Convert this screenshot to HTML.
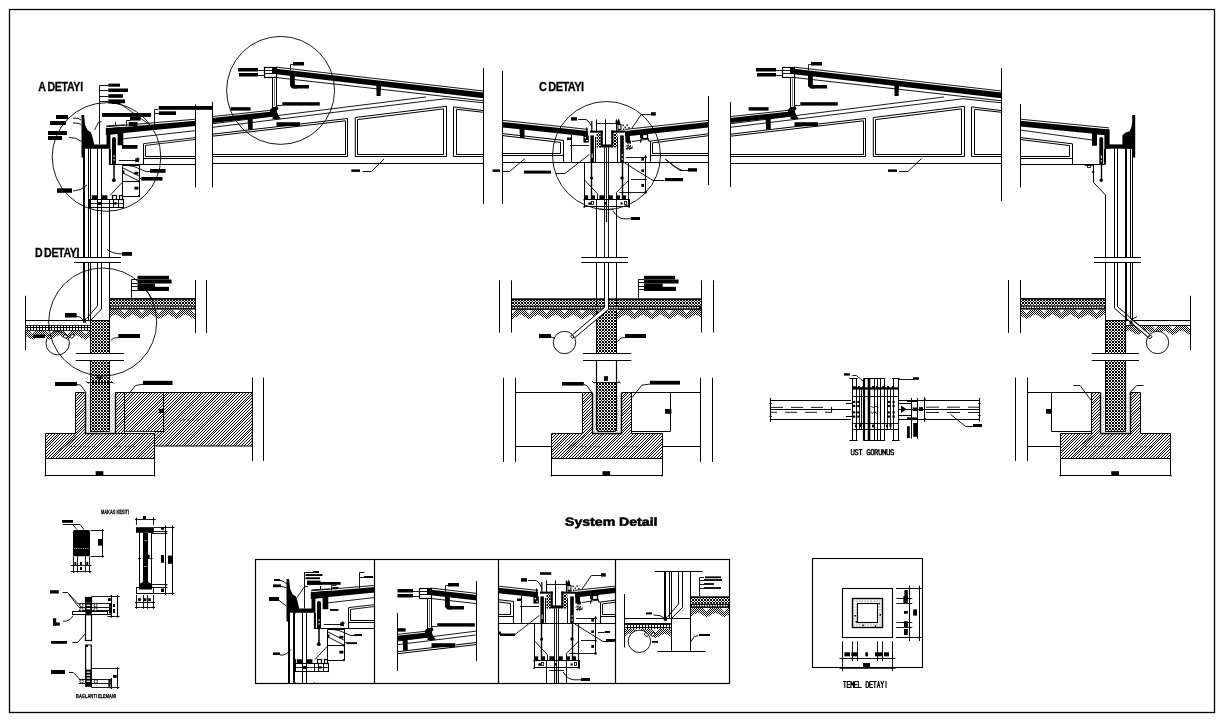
<!DOCTYPE html>
<html><head><meta charset="utf-8"><title>System Detail</title>
<style>html,body{margin:0;padding:0;background:#fff}svg{display:block}svg{fill:none;stroke:#000;stroke-width:1}svg .b{fill:#000;stroke:none}svg .w{fill:#fff;stroke:none}svg text{font-family:"Liberation Sans",sans-serif;fill:#000;stroke:none;filter:grayscale(1)}</style></head><body>
<svg width="1224" height="723" viewBox="0 0 1224 723">
<defs>
<pattern id="hatch" patternUnits="userSpaceOnUse" width="17" height="17">
<path d="M0 0h1v1h-1zM3 0h1v1h-1zM6 0h1v1h-1zM9 0h1v1h-1zM12 0h1v1h-1zM15 0h1v1h-1zM2 1h1v1h-1zM5 1h1v1h-1zM8 1h1v1h-1zM11 1h1v1h-1zM14 1h1v1h-1zM16 1h1v1h-1zM1 2h1v1h-1zM4 2h1v1h-1zM7 2h1v1h-1zM10 2h1v1h-1zM13 2h1v1h-1zM15 2h1v1h-1zM0 3h1v1h-1zM3 3h1v1h-1zM6 3h1v1h-1zM9 3h1v1h-1zM12 3h1v1h-1zM14 3h1v1h-1zM2 4h1v1h-1zM5 4h1v1h-1zM8 4h1v1h-1zM11 4h1v1h-1zM13 4h1v1h-1zM16 4h1v1h-1zM1 5h1v1h-1zM4 5h1v1h-1zM7 5h1v1h-1zM10 5h1v1h-1zM12 5h1v1h-1zM15 5h1v1h-1zM0 6h1v1h-1zM3 6h1v1h-1zM6 6h1v1h-1zM9 6h1v1h-1zM11 6h1v1h-1zM14 6h1v1h-1zM2 7h1v1h-1zM5 7h1v1h-1zM8 7h1v1h-1zM10 7h1v1h-1zM13 7h1v1h-1zM16 7h1v1h-1zM1 8h1v1h-1zM4 8h1v1h-1zM7 8h1v1h-1zM9 8h1v1h-1zM12 8h1v1h-1zM15 8h1v1h-1zM0 9h1v1h-1zM3 9h1v1h-1zM6 9h1v1h-1zM8 9h1v1h-1zM11 9h1v1h-1zM14 9h1v1h-1zM2 10h1v1h-1zM5 10h1v1h-1zM7 10h1v1h-1zM10 10h1v1h-1zM13 10h1v1h-1zM16 10h1v1h-1zM1 11h1v1h-1zM4 11h1v1h-1zM6 11h1v1h-1zM9 11h1v1h-1zM12 11h1v1h-1zM15 11h1v1h-1zM0 12h1v1h-1zM3 12h1v1h-1zM5 12h1v1h-1zM8 12h1v1h-1zM11 12h1v1h-1zM14 12h1v1h-1zM2 13h1v1h-1zM4 13h1v1h-1zM7 13h1v1h-1zM10 13h1v1h-1zM13 13h1v1h-1zM16 13h1v1h-1zM1 14h1v1h-1zM3 14h1v1h-1zM6 14h1v1h-1zM9 14h1v1h-1zM12 14h1v1h-1zM15 14h1v1h-1zM0 15h1v1h-1zM2 15h1v1h-1zM5 15h1v1h-1zM8 15h1v1h-1zM11 15h1v1h-1zM14 15h1v1h-1zM1 16h1v1h-1zM4 16h1v1h-1zM7 16h1v1h-1zM10 16h1v1h-1zM13 16h1v1h-1zM16 16h1v1h-1z" fill="#000" stroke="none" shape-rendering="crispEdges"/></pattern>
<pattern id="conc" patternUnits="userSpaceOnUse" width="3" height="3">
<path d="M0 0H1V1H0ZM2 0H3V1H2ZM1 1H2V2H1ZM0 2H1V3H0ZM2 2H3V3H2Z" fill="#000" stroke="none" shape-rendering="crispEdges"/></pattern>
<pattern id="dots" patternUnits="userSpaceOnUse" width="3" height="3">
<path d="M2 0H3V1H2ZM1 1H2V2H1ZM0 2H1V3H0ZM0 0H1V1H0ZM2 2H3V3H2Z" fill="#000" stroke="none" shape-rendering="crispEdges"/></pattern>
<pattern id="dots2" patternUnits="userSpaceOnUse" width="3" height="3">
<path d="M0 0H3V3H0Z" fill="#000" stroke="none"/><path d="M1 1H3V3H1Z" fill="#fff" stroke="none" shape-rendering="crispEdges"/></pattern>
<pattern id="xh" patternUnits="userSpaceOnUse" width="2" height="2">
<path d="M0 0H1V1H0ZM1 1H2V2H1Z" fill="#000" stroke="none" shape-rendering="crispEdges"/></pattern>
<pattern id="xhL" patternUnits="userSpaceOnUse" width="3" height="3">
<path d="M0 0H1V1H0ZM1 1H2V2H1ZM2 2H3V3H2ZM1 0H2V1H1ZM2 1H3V2H2ZM0 2H1V3H0Z" fill="#000" stroke="none" shape-rendering="crispEdges"/></pattern>
<pattern id="xhR" patternUnits="userSpaceOnUse" width="3" height="3">
<path d="M2 0H3V1H2ZM1 1H2V2H1ZM0 2H1V3H0ZM1 0H2V1H1ZM0 1H1V2H0ZM2 2H3V3H2Z" fill="#000" stroke="none" shape-rendering="crispEdges"/></pattern>
<pattern id="grout" patternUnits="userSpaceOnUse" width="2.3" height="4.3">
<rect x="0.6" y="0.5" width="0.7" height="0.7" fill="#000" stroke="none"/><rect x="1.6" y="2.7" width="0.6" height="0.6" fill="#000" stroke="none"/></pattern>
<pattern id="grout2" patternUnits="userSpaceOnUse" width="2.9" height="2.9">
<rect x="0.6" y="0.5" width="0.9" height="0.9" fill="#000" stroke="none"/></pattern>

<g id="LU"><path d="M84 148L84 257.2" stroke-width="2"/>
<path d="M88.5 148.5L88.5 257.2"/>
<path d="M90.5 148.5L90.5 257.2"/>
<path d="M97.5 148.5L97.5 257.2"/>
<path d="M101.5 148.5L101.5 257.2"/>
<path d="M109.5 207L109.5 257.2"/>
<rect class="b" x="81.5" y="115" width="2.7" height="42.5"/>
<polygon class="b" points="84,116 85.2,125 87.5,130 91,132.6 92.6,137.5 94,143.6 94,144.4 106.5,144.4 106.5,129.5 110.4,129.5 110.4,148.8 84,148.8"/>
<polygon class="b" points="106,128.5 195.6,120.8 195.6,126 106,134.7"/>
<path d="M106 126.8L195.6 119.2" stroke-width="0.9"/>
<polygon class="b" points="105.8,128.3 123.3,126.8 123.3,145.2 117.6,145.2 117.6,134 105.8,135"/>
<path d="M112 139Q112 137 114 137Q116 137 116 139L116 164.4L112 164.4Z" stroke-width="0" fill="#000"/>
<rect class="b" x="108.9" y="148.8" width="2" height="15.6"/>
<path d="M108.9 164.5L116 164.5"/>
<rect class="w" x="113.5" y="155.3" width="1.1" height="1.8"/><rect class="w" x="113.5" y="158.8" width="1.1" height="1.8"/>
<path d="M114 164.4L114 180" stroke-width="1.5"/>
<circle class="b" cx="113.8" cy="180.2" r="1.9"/>
<path d="M123.3 138.8L195.6 130.6" stroke-width="0.9"/>
<path d="M143.75 143.6L195.6 137.6" stroke-width="0.9"/>
<path d="M145.6 145.4L195.6 139.4" stroke-width="0.9"/>
<path d="M143.5 143.6L143.5 164.3"/>
<path d="M145.5 145.4L145.5 156.8"/>
<path d="M145.6 156.5L195.6 156.5"/>
<path d="M143.75 158.5L195.6 158.5"/>
<path d="M109.5 164.5L195.6 164.5"/>
<path d="M118.8 160.5L137 160.5" stroke-width="0.92"/>
<polygon class="b" points="135,158.6 137.2,158.2 138,156.6 138.6,158.4 140,158.8 138.8,160.2 139,162.6 137,161.8 135,162.6 135.6,160.4"/>
<path d="M138.5 165.5L122.5 165.5L122.5 196.5L139.5 196.5"/>
<path d="M139.5 164L139.5 197"/>
<path d="M122 181.5L139 181.5"/>
<path d="M122 167.5L139 176" stroke-width="0.92"/>
<path d="M122 172.5L139 181" stroke-width="0.92"/>
<rect class="b" x="134.4" y="171.8" width="4" height="2.6"/>
<rect class="b" x="134.4" y="186.7" width="4" height="2.9"/>
<rect class="b" x="123" y="170.5" width="1.4" height="3"/>
<circle class="b" cx="139" cy="181.5" r="1.1"/>
<circle class="b" cx="139" cy="196" r="1.1"/>
<circle class="b" cx="139" cy="165" r="1.1"/>
<path d="M128 165.5L134 166.5L146 171.5L150 171.5" stroke-width="0.92"/>
<path d="M139 178.5L141.3 178.5" stroke-width="0.92"/>
<path d="M110 195.5L122 182.5" stroke-width="0.92"/>
<rect x="89.5" y="199.5" width="34" height="8"/>
<path d="M89 203.5L123 203.5" stroke-width="0.85"/>
<path d="M97.5 199.6L97.5 207.3" stroke-width="0.92"/>
<path d="M101.5 199.6L101.5 207.3" stroke-width="0.92"/>
<path d="M109.5 199.6L109.5 207.3" stroke-width="0.92"/>
<path d="M113.5 199.6L113.5 207.3" stroke-width="0.92"/>
<path d="M118.5 199.6L118.5 207.3" stroke-width="0.92"/>
<rect class="b" x="91.8" y="195.3" width="5.2" height="4.1"/>
<rect class="b" x="101.6" y="195.3" width="5.8" height="4.1"/>
<rect x="112.5" y="195.5" width="4" height="4" stroke-width="1.2"/>
<rect x="119.5" y="195.5" width="3" height="4" stroke-width="1.2"/>
<rect class="b" x="97.3" y="202" width="3.7" height="3"/>
<rect class="b" x="114.2" y="202.2" width="2.4" height="2.4"/>
<circle class="b" cx="123" cy="199.6" r="0.9"/>
<circle class="b" cx="123" cy="207.3" r="0.9"/>
<circle class="b" cx="89" cy="207.3" r="0.9"/></g>
<g id="LUL"><rect class="b" x="122" y="145" width="15.5" height="3.8"/>
<rect class="b" x="150" y="169" width="15.6" height="3.8"/>
<rect class="b" x="141.3" y="177" width="21.2" height="3.6"/>
<path d="M99.5 85.8L99.5 144" stroke-width="0.92"/>
<path d="M99.4 85.5L108.3 85.5" stroke-width="0.92"/>
<path d="M99.4 90.5L108.3 90.5" stroke-width="0.92"/>
<path d="M99.4 96.5L108.3 96.5" stroke-width="0.92"/>
<path d="M99.4 101.5L108.3 101.5" stroke-width="0.92"/>
<rect class="b" x="108.3" y="83.6" width="11.7" height="3.1"/>
<rect class="b" x="108.3" y="88.5" width="19.7" height="3.5"/>
<rect class="b" x="108.3" y="94.2" width="14.7" height="3.6"/>
<rect class="b" x="108.3" y="99.4" width="16.7" height="3.8"/>
<rect class="b" x="112" y="102.5" width="8" height="1.5"/>
<path d="M120 103.5L150 125" stroke-width="0.85"/>
<rect class="b" x="56" y="115" width="12" height="4"/>
<rect class="b" x="50" y="121" width="16" height="4"/>
<rect class="b" x="48" y="131" width="19" height="4"/>
<rect class="b" x="48" y="136" width="14" height="4"/>
<path d="M73 118L78 118.3L81 120" stroke-width="0.92"/>
<path d="M73 123L78 123.3L81 124.5" stroke-width="0.92"/>
<path d="M69 137.5Q76 137 81.5 141.5" stroke-width="0.92"/>
<rect class="b" x="102" y="113" width="49" height="3.9"/>
<rect class="b" x="130" y="116.9" width="10.6" height="3.7"/>
<rect class="b" x="128.8" y="122" width="8.7" height="4"/>
<path d="M126.5 126.5L126.5 120.5L130.5 120.5" stroke-width="0.92"/>
<path d="M115.5 122L115.5 125.6"/>
<path d="M106.5 125.8L125 124.9" stroke-width="0.85"/>
<path d="M101.5 121.7L98.5 122.2L94.5 130" stroke-width="0.85"/>
<path d="M154.5 125.5L154.5 109.5L158.5 109.5" stroke-width="0.92"/>
<rect class="b" x="158.8" y="106" width="36.8" height="3.8"/>
<path d="M154.4 113.5L158.8 113.5" stroke-width="0.92"/>
<rect class="b" x="158.8" y="111.3" width="17.2" height="3.7"/>
<rect class="b" x="57" y="188.3" width="15" height="4.5"/>
<path d="M73 191Q81 191 87 185" stroke-width="0.92"/>
<rect class="b" x="122" y="252" width="10" height="3.8"/>
<path d="M107 249.5Q112 253.5 122 254" stroke-width="0.92"/></g>
<g id="TR"><path d="M212.5 163.5L483.5 163.5"/>
<path d="M212.5 134.2L347.5 118.5L347.5 156.5L212.5 156.5"/>
<path d="M212.5 136.2L345.5 120.8L345.5 154.5L212.5 154.5"/>
<path d="M355.3 117.5L446.5 106.3L446.5 156.5L355.3 156.5Z"/>
<path d="M357.5 119.6L443.5 108.9L443.5 154.5L357.5 154.5Z"/>
<path d="M483.5 110.6L453.5 106.9L453.5 156.5L483.5 156.5"/>
<path d="M483.5 112.3L456.5 109.3L456.5 154.5L483.5 154.5"/>
<path d="M212.5 123.75L426 97" stroke-width="0.9"/>
<path d="M212.5 127.3L445 98.75" stroke-width="0.9"/>
<polygon class="b" points="212.5,118 277,111 277,115.9 212.5,122.9"/>
<path d="M212.5 116.6L277 109.6" stroke-width="0.9"/>
<polygon class="b" points="247.6,118 252.6,117.4 252.8,129.4 248.2,129.7"/>
<polygon class="b" points="270,109.5 273,107 277.6,106.6 278.5,109 276.5,111 278.6,116 281,118.6 276,119.6 272,118.6 273.6,116 270,116"/>
<polygon class="b" points="276,68.7 483.5,92.6 483.5,98.2 276,74.3"/>
<path d="M276 67.1L483.5 91" stroke-width="0.9"/>
<path d="M276 77.5L483.5 100.8" stroke-width="0.92"/>
<path d="M445 98.75L483.5 102.8" stroke-width="0.92"/>
<rect x="264.5" y="67.5" width="12" height="10" stroke-width="1.2" fill="#fff"/>
<path d="M264.5 70.5L276 70.5" stroke-width="0.92"/>
<path d="M264.5 73.5L276 73.5" stroke-width="0.92"/>
<rect class="b" x="272" y="67" width="5" height="7"/>
<path d="M272.5 77L272.5 108"/>
<path d="M276.5 77L276.5 108"/>
<path d="M274.5 79L274.5 106" stroke-width="0.5"/>
<polygon class="b" points="290,73.5 294.8,74 294.8,84.5 297,85.2 297,88.5 292.5,88.5 290,86"/>
<rect class="b" x="294" y="85" width="15" height="3.5"/>
<polygon class="b" points="376.2,81 381.2,81.6 380.6,96 376.6,96"/>
<rect class="b" x="238" y="68" width="20" height="3.5"/>
<rect class="b" x="239" y="73" width="19" height="3.5"/>
<path d="M258 70.5L264.5 70.5" stroke-width="0.85"/>
<path d="M258 75.5L264.5 75.5" stroke-width="0.85"/>
<rect class="b" x="293" y="62" width="11" height="3.5"/>
<path d="M290.5 70.5L290.5 64.5L293.5 64.5" stroke-width="0.85"/>
<rect class="b" x="282.3" y="102.2" width="37.5" height="3.4"/>
<path d="M276.2 105.5L282.3 105.5" stroke-width="0.85"/>
<rect class="b" x="276.5" y="122.2" width="23.5" height="4"/>
<rect class="b" x="230.6" y="107.2" width="20" height="3.4"/></g>
<g id="MU"><polygon class="b" points="502.5,121.9 588,131 588,136.5 502.5,127.4"/>
<path d="M502.5 120.3L588 129.4" stroke-width="0.9"/>
<polygon class="b" points="625,131 708.5,122 708.5,127.5 625,136.5"/>
<path d="M625 129.4L708.5 120.4" stroke-width="0.9"/>
<polygon class="b" points="519.4,127.5 524.6,128 524.4,138 520,138"/>
<path d="M502.5 133.6L563.5 140.4L563.5 155.5L502.5 155.5"/>
<path d="M502.5 135.6L560.5 142.4L560.5 153.5L502.5 153.5"/>
<path d="M708.5 133.8L650.5 141L650.5 155.5L708.5 155.5"/>
<path d="M708.5 135.7L652.5 142.9L652.5 153.5L708.5 153.5"/>
<path d="M502.5 162.5L708.5 162.5"/>
<path d="M571.5 135L571.5 162.7"/>
<path d="M570 145.5L589 145.5" stroke-width="0.9"/>
<rect class="b" x="567" y="137.5" width="4" height="2.5"/>
<rect class="b" x="627" y="140.5" width="4" height="3"/>
<path d="M563.5 140.4L563.5 162.7"/>
<path d="M650.5 141L650.5 162.7"/>
<rect class="b" x="590" y="130.6" width="12.6" height="2.1"/>
<rect class="b" x="611.2" y="130.6" width="14" height="2.1"/>
<polygon class="b" points="600.6,130.6 602.8,130.6 602.8,144.6 611.2,144.6 611.2,130.6 613.4,130.6 613.4,147.2 600.6,147.2"/>
<rect x="596.6" y="133" width="4" height="14.2" stroke-width="0" fill="url(#conc)"/>
<rect x="613.4" y="133" width="4" height="14.2" stroke-width="0" fill="url(#conc)"/>
<rect x="596.6" y="144.8" width="20.8" height="2.6" stroke-width="0" fill="url(#conc)"/>
<path d="M596 123.5L616.3 123.5" stroke-width="0.9"/>
<path d="M596.5 119.5L596.5 131"/>
<path d="M616.5 119.5L616.5 131"/>
<path d="M605.5 119.4L605.5 145"/>
<rect class="b" x="591.2" y="121" width="1.2" height="10"/>
<rect class="b" x="586" y="127.5" width="1.4" height="3.5"/>
<polygon class="b" points="615.4,120 616.6,122 619,118.6 620.4,124 616,125"/>
<rect class="b" x="617.5" y="124" width="4" height="6.6"/>
<rect class="w" x="618.4" y="125.2" width="2" height="3.6"/>
<rect class="b" x="622.5" y="124.5" width="1.3" height="1.6"/>
<rect class="b" x="624.5" y="126.5" width="1.3" height="1.6"/>
<rect class="b" x="626.5" y="124.3" width="1.3" height="1.6"/>
<rect class="b" x="628.3" y="127" width="1.3" height="1.6"/>
<rect class="b" x="623" y="128.6" width="1.3" height="1.6"/>
<polygon class="b" points="583.4,135.4 588.8,135.4 588.8,142.6 583.4,142.6"/>
<circle cx="585.4" cy="137.6" r="0.8" fill="#fff" stroke="none"/><circle cx="587" cy="140.5" r="0.8" fill="#fff" stroke="none"/>
<rect class="b" x="625.4" y="135" width="4.6" height="7.4"/>
<rect x="642.5" y="134.5" width="5" height="4" stroke-width="1.3"/>
<rect class="b" x="640" y="133.5" width="3" height="4.5"/>
<path d="M632 141.5L649 139" stroke-width="0.9"/>
<path d="M641.5 137.5L640.5 142.6M647.8 138.5L649.5 141.6" stroke-width="1.2"/>
<path d="M625.5 146.6L628.4 144.8L627.4 149.4L630.6 145L629.6 149.5L633 146.5M626 148.6L632.6 148.2" stroke-width="0.9"/>
<rect class="b" x="590.4" y="135.4" width="3.5" height="27.2"/>
<path d="M595.5 137L595.5 162.6"/>
<rect class="b" x="620.2" y="135.4" width="3.6" height="27.2"/>
<path d="M617.5 137L617.5 162.6"/>
<rect class="w" x="591.7" y="153.5" width="0.9" height="4.6"/><rect class="w" x="621.7" y="154" width="0.9" height="2"/><rect class="w" x="621.7" y="158" width="0.9" height="2"/>
<path d="M590.4 162.5L596.2 162.5"/>
<path d="M617 162.5L623.8 162.5"/>
<path d="M591.5 162.6L591.5 199" stroke-width="1.4"/>
<path d="M622.5 162.6L622.5 199" stroke-width="1.4"/>
<circle class="b" cx="591.6" cy="178" r="1.5"/>
<circle class="b" cx="622" cy="178" r="1.7"/>
<path d="M604.5 147.4L604.5 257.5" stroke-width="0.9"/>
<path d="M608.5 147.4L608.5 257.5" stroke-width="0.9"/>
<path d="M606.5 147.4L606.5 222" stroke-width="0.9"/>
<path d="M606.5 207L606.5 222" stroke-width="1.2"/>
<path d="M584.5 162.7L584.5 207"/>
<path d="M628.5 162.7L628.5 207"/>
<path d="M584.6 180L597.5 193.8" stroke-width="0.9"/>
<path d="M628.8 180L616.3 192.5" stroke-width="0.9"/>
<path d="M597.5 193.8L597.5 199.5" stroke-width="0.9"/>
<path d="M616.5 192.5L616.5 199.5" stroke-width="0.9"/>
<rect x="584.5" y="199.5" width="45" height="7"/>
<path d="M596.5 199.8L596.5 206.9" stroke-width="0.9"/>
<path d="M616.5 199.8L616.5 206.9" stroke-width="0.9"/>
<rect class="b" x="584.7" y="195.3" width="3.5" height="4.2"/>
<rect class="b" x="591.3" y="195.3" width="3.7" height="4.2"/>
<rect class="b" x="599.4" y="195.3" width="5.4" height="4.2"/>
<rect class="b" x="608.5" y="195.3" width="4.3" height="4.2"/>
<rect class="b" x="616.9" y="195.3" width="3.1" height="4.2"/>
<rect class="b" x="622.8" y="195.3" width="3.2" height="4.2"/>
<rect class="b" x="588.4" y="202.3" width="2.6" height="2.5"/>
<rect x="591.5" y="201.5" width="2" height="3" stroke-width="0.8"/>
<rect x="624.5" y="201.5" width="2" height="3" stroke-width="0.8"/>
<rect class="b" x="620.6" y="202.4" width="2" height="2.2"/>
<rect class="b" x="604.6" y="202" width="2.2" height="2.6"/>
<circle class="b" cx="584.2" cy="199.8" r="0.9"/>
<circle class="b" cx="584.2" cy="206.9" r="0.9"/>
<circle class="b" cx="629.3" cy="199.8" r="0.9"/>
<circle class="b" cx="629.3" cy="206.9" r="0.9"/>
<path d="M599.4 209.5L613.8 209.5" stroke-width="0.9"/>
<path d="M596.5 206.9L596.5 257.5"/>
<path d="M616.5 206.9L616.5 257.5"/>
<path d="M645.5 156L645.5 193"/>
<path d="M626 157.5L645 157.5" stroke-width="0.9"/>
<path d="M631 179.5L645.6 179.5" stroke-width="0.9"/>
<path d="M619.4 192.5L645.6 192.5" stroke-width="0.9"/>
<rect class="b" x="641.3" y="157.8" width="2.7" height="2.8"/>
<rect class="b" x="641.3" y="169.4" width="2.7" height="2.5"/>
<rect class="b" x="641.3" y="184" width="2.7" height="2.9"/>
<polygon class="b" points="645.6,154.6 647.2,158 644.2,158"/>
<circle class="b" cx="645.6" cy="192.5" r="1.3"/>
<circle class="b" cx="645.6" cy="179.4" r="1"/>
<path d="M625 163.2L653 180.5L664.4 180.5" stroke-width="0.92"/>
<rect class="b" x="665" y="178" width="18" height="3.2"/>
<path d="M665.6 159.4Q674 168 683 170.8" stroke-width="0.92"/>
<rect class="b" x="688" y="168.2" width="9" height="3.4"/>
<path d="M665 158.8L680 170.5L688 170.5" stroke-width="0.92"/>
<path d="M556 173.5L565 173.5L589.4 154.4" stroke-width="0.92"/>
<rect class="b" x="524" y="170.6" width="27" height="3"/>
<rect class="b" x="571" y="117.2" width="6" height="3.4"/>
<path d="M578.2 119.5L586.2 119.5L589 122L592 127" stroke-width="0.92"/>
<rect class="b" x="651" y="112.2" width="4.8" height="3.4"/>
<path d="M651 114.5L641.3 114.5L632 128" stroke-width="0.92"/>
<path d="M613 211Q618 218.8 624 218.8L631 218.8" stroke-width="0.92"/>
<rect class="b" x="631" y="217" width="9" height="3"/>
<rect class="b" x="492.5" y="169.4" width="7.5" height="2.5"/>
<path d="M502.5 171.5L509.5 171.5L525 158.6" stroke-width="0.92"/></g>
<clipPath id="cp1"><rect x="284" y="560" width="90.4" height="123"/></clipPath>
<clipPath id="cp2"><rect x="397.5" y="580" width="78.8" height="92"/></clipPath>
<clipPath id="cp3"><rect x="498.5" y="560" width="117.1" height="123"/></clipPath>
<clipPath id="cpL"><rect x="0" y="0" width="195.6" height="723"/></clipPath>
</defs>
<rect x="0" y="0" width="1224" height="723" class="w"/>
<rect x="9.5" y="9.5" width="1205" height="703" stroke-width="1.3"/>
<use href="#LU" clip-path="url(#cpL)"/>
<use href="#LUL" clip-path="url(#cpL)"/>
<path d="M84 262.2L84 320.3" stroke-width="2"/>
<path d="M88.5 262.2L88.5 320.3"/>
<path d="M90.5 262.2L90.5 320.3"/>
<path d="M97.5 262.2L97.5 305.8L86.7 318.6"/>
<path d="M101.5 262.2L101.5 309L91 320"/>
<path d="M109.5 262.2L109.5 320.3"/>
<rect x="110" y="299.5" width="85.3" height="5.9" stroke-width="0" fill="url(#dots)"/>
<rect class="b" x="110" y="298" width="85.3" height="1.7"/>
<rect class="b" x="110" y="305.4" width="85.3" height="4.2"/>
<rect class="w" x="111.2" y="306.6" width="1.7" height="1.5"/>
<rect class="w" x="113.8" y="306.6" width="1.7" height="1.5"/>
<rect class="w" x="116.4" y="306.6" width="1.7" height="1.5"/>
<rect class="w" x="119" y="306.6" width="1.7" height="1.5"/>
<rect class="w" x="121.6" y="306.6" width="1.7" height="1.5"/>
<rect class="w" x="124.2" y="306.6" width="1.7" height="1.5"/>
<rect class="w" x="126.8" y="306.6" width="1.7" height="1.5"/>
<rect class="w" x="129.4" y="306.6" width="1.7" height="1.5"/>
<rect class="w" x="132" y="306.6" width="1.7" height="1.5"/>
<rect class="w" x="134.6" y="306.6" width="1.7" height="1.5"/>
<rect class="w" x="137.2" y="306.6" width="1.7" height="1.5"/>
<rect class="w" x="139.8" y="306.6" width="1.7" height="1.5"/>
<rect class="w" x="142.4" y="306.6" width="1.7" height="1.5"/>
<rect class="w" x="145" y="306.6" width="1.7" height="1.5"/>
<rect class="w" x="147.6" y="306.6" width="1.7" height="1.5"/>
<rect class="w" x="150.2" y="306.6" width="1.7" height="1.5"/>
<rect class="w" x="152.8" y="306.6" width="1.7" height="1.5"/>
<rect class="w" x="155.4" y="306.6" width="1.7" height="1.5"/>
<rect class="w" x="158" y="306.6" width="1.7" height="1.5"/>
<rect class="w" x="160.6" y="306.6" width="1.7" height="1.5"/>
<rect class="w" x="163.2" y="306.6" width="1.7" height="1.5"/>
<rect class="w" x="165.8" y="306.6" width="1.7" height="1.5"/>
<rect class="w" x="168.4" y="306.6" width="1.7" height="1.5"/>
<rect class="w" x="171" y="306.6" width="1.7" height="1.5"/>
<rect class="w" x="173.6" y="306.6" width="1.7" height="1.5"/>
<rect class="w" x="176.2" y="306.6" width="1.7" height="1.5"/>
<rect class="w" x="178.8" y="306.6" width="1.7" height="1.5"/>
<rect class="w" x="181.4" y="306.6" width="1.7" height="1.5"/>
<rect class="w" x="184" y="306.6" width="1.7" height="1.5"/>
<rect class="w" x="186.6" y="306.6" width="1.7" height="1.5"/>
<rect class="w" x="189.2" y="306.6" width="1.7" height="1.5"/>
<rect class="w" x="191.8" y="306.6" width="1.7" height="1.5"/>
<clipPath id="zc0"><rect x="110" y="309.1" width="85.3" height="12"/></clipPath>
<polygon clip-path="url(#zc0)" stroke="none" fill="url(#xh)" points="97.95,309.6 103.1,309.6 106.7,313.4 110.3,309.6 115.45,309.6 120.6,309.6 124.2,313.4 127.8,309.6 132.95,309.6 138.1,309.6 141.7,313.4 145.3,309.6 150.45,309.6 155.6,309.6 159.2,313.4 162.8,309.6 167.95,309.6 173.1,309.6 176.7,313.4 180.3,309.6 185.45,309.6 190.6,309.6 194.2,313.4 197.8,309.6 202.95,309.6 208.1,309.6 211.7,313.4 215.3,309.6 220.45,309.6 220.45,314.2 211.7,318.9 202.95,314.2 194.2,318.9 185.45,314.2 176.7,318.9 167.95,314.2 159.2,318.9 150.45,314.2 141.7,318.9 132.95,314.2 124.2,318.9 115.45,314.2 106.7,318.9 97.95,314.2"/>
<path d="M25.5 320.5L90 320.5"/>
<path d="M25.5 325.5L90 325.5" stroke-width="1.2"/>
<rect x="25.5" y="325.8" width="64.5" height="5" stroke-width="0" fill="url(#dots2)"/>
<clipPath id="zc1"><rect x="25.5" y="330" width="64.5" height="12"/></clipPath>
<polygon clip-path="url(#zc1)" stroke="none" fill="url(#xh)" points="6.25,330.5 11.4,330.5 15,334.3 18.6,330.5 23.75,330.5 28.9,330.5 32.5,334.3 36.1,330.5 41.25,330.5 46.4,330.5 50,334.3 53.6,330.5 58.75,330.5 63.9,330.5 67.5,334.3 71.1,330.5 76.25,330.5 81.4,330.5 85,334.3 88.6,330.5 93.75,330.5 98.9,330.5 102.5,334.3 106.1,330.5 111.25,330.5 111.25,335.1 102.5,339.8 93.75,335.1 85,339.8 76.25,335.1 67.5,339.8 58.75,335.1 50,339.8 41.25,335.1 32.5,339.8 23.75,335.1 15,339.8 6.25,335.1"/>
<rect class="b" x="83" y="318.4" width="3" height="4.2"/>
<circle cx="57.7" cy="343.2" r="11.7" stroke-width="0.9" fill="none"/>
<ellipse cx="72.2" cy="336.2" rx="2.2" ry="1.5" transform="rotate(-40 72.2 336.2)" stroke-width="0.9" fill="#fff"/>
<ellipse cx="65.5" cy="336.4" rx="2.1" ry="1.5" transform="rotate(35 65.5 336.4)" stroke-width="0.9" fill="#fff"/>
<rect class="b" x="65" y="313" width="11.7" height="4.5"/>
<path d="M76.7 316.5L80 317L83 320" stroke-width="0.92"/>
<rect class="b" x="33" y="334.6" width="12" height="3.4"/>
<rect class="b" x="118.3" y="334" width="21.7" height="4"/>
<path d="M118.3 337.6L114 338L110.8 340.5" stroke-width="0.92"/>
<path d="M131.5 279.7L131.5 298" stroke-width="0.92"/>
<path d="M131.3 279.5L137.5 279.5" stroke-width="0.92"/>
<path d="M131.3 283.5L137.5 283.5" stroke-width="0.92"/>
<path d="M131.3 286.5L137.5 286.5" stroke-width="0.92"/>
<path d="M131.3 290.5L137.5 290.5" stroke-width="0.92"/>
<rect class="b" x="137.5" y="275.8" width="31.5" height="3.7"/>
<rect class="b" x="137.5" y="279.5" width="34.1" height="4"/>
<rect class="b" x="137.5" y="283.5" width="17.5" height="3.5"/>
<rect class="b" x="137.5" y="286.8" width="31.5" height="4.2"/>
<path d="M146 291Q149 293 151.5 298" stroke-width="0.92"/>
<path d="M87 382.5L112.6 382.5" stroke-width="0.9"/>
<polygon class="b" points="96,376.4 102.6,376.4 99.3,380.4"/>
<path d="M86 381.3L88.6 383.6" stroke-width="0.92"/>
<path d="M111 381.3L113.6 383.6" stroke-width="0.92"/>
<rect x="75.2" y="392.5" width="9.8" height="41.9" stroke-width="0" fill="url(#hatch)"/>
<rect x="115" y="392.5" width="9.8" height="41.9" stroke-width="0" fill="url(#hatch)"/>
<rect x="45.5" y="433.9" width="108.9" height="24.6" stroke-width="0" fill="url(#hatch)"/>
<path d="M45.5 433.5L75.5 433.5L75.5 392.5L85.5 392.5"/>
<path d="M115.5 392.5L124.5 392.5L124.5 433.5L154.5 433.5"/>
<path d="M45.5 433.5L45.5 475.5L154.5 475.5L154.5 433.5"/>
<path d="M45.5 458.5L154.4 458.5"/>
<rect class="w" x="85" y="392.3" width="30" height="41"/>
<rect x="85.8" y="394.5" width="4.6" height="37.8" stroke-width="0" fill="url(#grout)"/>
<rect x="109.6" y="394.5" width="4.6" height="37.8" stroke-width="0" fill="url(#grout)"/>
<path d="M85.5 392.5L85.5 433.5L115.5 433.5L115.5 392.5" stroke-width="1.4"/>
<path d="M69.5 446.7H95.5 M114.4 446.7H136.4" stroke-width="0.6" stroke-dasharray="3 1.5"/>
<path d="M59.5 450.7L78.5 435.4" stroke-width="0.85"/>
<rect class="b" x="95.65" y="471.2" width="7.7" height="4"/>
<circle class="b" cx="45.5" cy="475.6" r="0.9"/>
<circle class="b" cx="154.4" cy="475.6" r="0.9"/>
<rect x="90.4" y="320.3" width="19.2" height="111" stroke-width="0" fill="url(#conc)"/>
<path d="M90.5 320.3L90.5 431.3"/>
<path d="M109.5 320.3L109.5 431.3"/>
<path d="M90.4 320.5L109.6 320.5"/>
<path d="M90.4 431.5L109.6 431.5"/>
<rect class="w" x="75.8" y="353.3" width="48.2" height="7.2"/>
<path d="M75.8 353.5L124 353.5"/>
<path d="M75.8 360.5L124 360.5"/>
<polygon stroke="none" fill="url(#hatch)" points="124.8,392.5 252.3,392.5 252.3,446 154.4,446 154.4,433.9 124.8,433.9"/>
<path d="M124.8 392.5H252.3V446H154.4" />
<rect x="124.5" y="392.5" width="39" height="39"/>
<rect class="w" x="124.8" y="431.8" width="29.4" height="1.8"/>
<path d="M115 433.5L154.4 433.5"/>
<rect class="b" x="159" y="409" width="4.3" height="4"/>
<path d="M178 420H200" stroke-width="0.6" stroke-dasharray="3 1.5"/>
<rect class="b" x="55" y="382" width="22" height="4"/>
<path d="M77 384.6L80.5 385L86 392.5" stroke-width="0.92"/>
<rect class="b" x="143" y="380.8" width="29.5" height="4.2"/>
<path d="M143 384.2L135.5 385.5L130 392.3" stroke-width="0.92"/>
<use href="#TR"/>
<use href="#TR" transform="translate(518 0)"/>
<use href="#MU"/>
<path d="M596.5 262.2L596.5 310"/>
<path d="M616.5 262.2L616.5 310"/>
<rect x="511.3" y="299.8" width="190.4" height="5.9" stroke-width="0" fill="url(#dots)"/>
<rect class="b" x="511.3" y="298.3" width="190.4" height="1.7"/>
<rect class="b" x="511.3" y="305.7" width="190.4" height="4.2"/>
<rect class="w" x="512.5" y="306.9" width="1.7" height="1.5"/>
<rect class="w" x="515.1" y="306.9" width="1.7" height="1.5"/>
<rect class="w" x="517.7" y="306.9" width="1.7" height="1.5"/>
<rect class="w" x="520.3" y="306.9" width="1.7" height="1.5"/>
<rect class="w" x="522.9" y="306.9" width="1.7" height="1.5"/>
<rect class="w" x="525.5" y="306.9" width="1.7" height="1.5"/>
<rect class="w" x="528.1" y="306.9" width="1.7" height="1.5"/>
<rect class="w" x="530.7" y="306.9" width="1.7" height="1.5"/>
<rect class="w" x="533.3" y="306.9" width="1.7" height="1.5"/>
<rect class="w" x="535.9" y="306.9" width="1.7" height="1.5"/>
<rect class="w" x="538.5" y="306.9" width="1.7" height="1.5"/>
<rect class="w" x="541.1" y="306.9" width="1.7" height="1.5"/>
<rect class="w" x="543.7" y="306.9" width="1.7" height="1.5"/>
<rect class="w" x="546.3" y="306.9" width="1.7" height="1.5"/>
<rect class="w" x="548.9" y="306.9" width="1.7" height="1.5"/>
<rect class="w" x="551.5" y="306.9" width="1.7" height="1.5"/>
<rect class="w" x="554.1" y="306.9" width="1.7" height="1.5"/>
<rect class="w" x="556.7" y="306.9" width="1.7" height="1.5"/>
<rect class="w" x="559.3" y="306.9" width="1.7" height="1.5"/>
<rect class="w" x="561.9" y="306.9" width="1.7" height="1.5"/>
<rect class="w" x="564.5" y="306.9" width="1.7" height="1.5"/>
<rect class="w" x="567.1" y="306.9" width="1.7" height="1.5"/>
<rect class="w" x="569.7" y="306.9" width="1.7" height="1.5"/>
<rect class="w" x="572.3" y="306.9" width="1.7" height="1.5"/>
<rect class="w" x="574.9" y="306.9" width="1.7" height="1.5"/>
<rect class="w" x="577.5" y="306.9" width="1.7" height="1.5"/>
<rect class="w" x="580.1" y="306.9" width="1.7" height="1.5"/>
<rect class="w" x="582.7" y="306.9" width="1.7" height="1.5"/>
<rect class="w" x="585.3" y="306.9" width="1.7" height="1.5"/>
<rect class="w" x="587.9" y="306.9" width="1.7" height="1.5"/>
<rect class="w" x="590.5" y="306.9" width="1.7" height="1.5"/>
<rect class="w" x="593.1" y="306.9" width="1.7" height="1.5"/>
<rect class="w" x="595.7" y="306.9" width="1.7" height="1.5"/>
<rect class="w" x="598.3" y="306.9" width="1.7" height="1.5"/>
<rect class="w" x="600.9" y="306.9" width="1.7" height="1.5"/>
<rect class="w" x="603.5" y="306.9" width="1.7" height="1.5"/>
<rect class="w" x="606.1" y="306.9" width="1.7" height="1.5"/>
<rect class="w" x="608.7" y="306.9" width="1.7" height="1.5"/>
<rect class="w" x="611.3" y="306.9" width="1.7" height="1.5"/>
<rect class="w" x="613.9" y="306.9" width="1.7" height="1.5"/>
<rect class="w" x="616.5" y="306.9" width="1.7" height="1.5"/>
<rect class="w" x="619.1" y="306.9" width="1.7" height="1.5"/>
<rect class="w" x="621.7" y="306.9" width="1.7" height="1.5"/>
<rect class="w" x="624.3" y="306.9" width="1.7" height="1.5"/>
<rect class="w" x="626.9" y="306.9" width="1.7" height="1.5"/>
<rect class="w" x="629.5" y="306.9" width="1.7" height="1.5"/>
<rect class="w" x="632.1" y="306.9" width="1.7" height="1.5"/>
<rect class="w" x="634.7" y="306.9" width="1.7" height="1.5"/>
<rect class="w" x="637.3" y="306.9" width="1.7" height="1.5"/>
<rect class="w" x="639.9" y="306.9" width="1.7" height="1.5"/>
<rect class="w" x="642.5" y="306.9" width="1.7" height="1.5"/>
<rect class="w" x="645.1" y="306.9" width="1.7" height="1.5"/>
<rect class="w" x="647.7" y="306.9" width="1.7" height="1.5"/>
<rect class="w" x="650.3" y="306.9" width="1.7" height="1.5"/>
<rect class="w" x="652.9" y="306.9" width="1.7" height="1.5"/>
<rect class="w" x="655.5" y="306.9" width="1.7" height="1.5"/>
<rect class="w" x="658.1" y="306.9" width="1.7" height="1.5"/>
<rect class="w" x="660.7" y="306.9" width="1.7" height="1.5"/>
<rect class="w" x="663.3" y="306.9" width="1.7" height="1.5"/>
<rect class="w" x="665.9" y="306.9" width="1.7" height="1.5"/>
<rect class="w" x="668.5" y="306.9" width="1.7" height="1.5"/>
<rect class="w" x="671.1" y="306.9" width="1.7" height="1.5"/>
<rect class="w" x="673.7" y="306.9" width="1.7" height="1.5"/>
<rect class="w" x="676.3" y="306.9" width="1.7" height="1.5"/>
<rect class="w" x="678.9" y="306.9" width="1.7" height="1.5"/>
<rect class="w" x="681.5" y="306.9" width="1.7" height="1.5"/>
<rect class="w" x="684.1" y="306.9" width="1.7" height="1.5"/>
<rect class="w" x="686.7" y="306.9" width="1.7" height="1.5"/>
<rect class="w" x="689.3" y="306.9" width="1.7" height="1.5"/>
<rect class="w" x="691.9" y="306.9" width="1.7" height="1.5"/>
<rect class="w" x="694.5" y="306.9" width="1.7" height="1.5"/>
<rect class="w" x="697.1" y="306.9" width="1.7" height="1.5"/>
<clipPath id="zc2"><rect x="511.3" y="309.4" width="190.4" height="12"/></clipPath>
<polygon clip-path="url(#zc2)" stroke="none" fill="url(#xh)" points="485.55,309.9 490.7,309.9 494.3,313.7 497.9,309.9 503.05,309.9 508.2,309.9 511.8,313.7 515.4,309.9 520.55,309.9 525.7,309.9 529.3,313.7 532.9,309.9 538.05,309.9 543.2,309.9 546.8,313.7 550.4,309.9 555.55,309.9 560.7,309.9 564.3,313.7 567.9,309.9 573.05,309.9 578.2,309.9 581.8,313.7 585.4,309.9 590.55,309.9 595.7,309.9 599.3,313.7 602.9,309.9 608.05,309.9 613.2,309.9 616.8,313.7 620.4,309.9 625.55,309.9 630.7,309.9 634.3,313.7 637.9,309.9 643.05,309.9 648.2,309.9 651.8,313.7 655.4,309.9 660.55,309.9 665.7,309.9 669.3,313.7 672.9,309.9 678.05,309.9 683.2,309.9 686.8,313.7 690.4,309.9 695.55,309.9 700.7,309.9 704.3,313.7 707.9,309.9 713.05,309.9 713.05,314.5 704.3,319.2 695.55,314.5 686.8,319.2 678.05,314.5 669.3,319.2 660.55,314.5 651.8,319.2 643.05,314.5 634.3,319.2 625.55,314.5 616.8,319.2 608.05,314.5 599.3,319.2 590.55,314.5 581.8,319.2 573.05,314.5 564.3,319.2 555.55,314.5 546.8,319.2 538.05,314.5 529.3,319.2 520.55,314.5 511.8,319.2 503.05,314.5 494.3,319.2 485.55,314.5"/>
<rect x="582.3" y="392.5" width="9.7" height="41.9" stroke-width="0" fill="url(#hatch)"/>
<rect x="621.7" y="392.5" width="10" height="41.9" stroke-width="0" fill="url(#hatch)"/>
<rect x="551.5" y="433.9" width="110.5" height="24.6" stroke-width="0" fill="url(#hatch)"/>
<path d="M551.5 433.5L582.5 433.5L582.5 392.5L592.5 392.5"/>
<path d="M621.5 392.5L631.5 392.5L631.5 433.5L662.5 433.5"/>
<path d="M551.5 433.5L551.5 475.5L662.5 475.5L662.5 433.5"/>
<path d="M551.5 458.5L662 458.5"/>
<rect class="w" x="592" y="392.3" width="29.7" height="41"/>
<rect x="592.8" y="394.5" width="3.5" height="37.8" stroke-width="0" fill="url(#grout)"/>
<rect x="616.7" y="394.5" width="4.2" height="37.8" stroke-width="0" fill="url(#grout)"/>
<path d="M592.5 392.5L592.5 433.5L621.5 433.5L621.5 392.5" stroke-width="1.4"/>
<path d="M575.5 446.7H601.5 M622 446.7H644" stroke-width="0.6" stroke-dasharray="3 1.5"/>
<path d="M565.5 450.7L584.5 435.4" stroke-width="0.85"/>
<rect class="b" x="602.45" y="471.2" width="7.7" height="4"/>
<circle class="b" cx="551.5" cy="475.6" r="0.9"/>
<circle class="b" cx="662" cy="475.6" r="0.9"/>
<rect class="w" x="596.5" y="309.7" width="20.3" height="43.6"/>
<rect x="596.5" y="309.7" width="20.3" height="43.6" stroke-width="0" fill="url(#conc)"/>
<path d="M596.5 309.7L596.5 353.3"/>
<path d="M616.5 309.7L616.5 353.3"/>
<rect class="w" x="596.8" y="360.5" width="19.7" height="21.5"/>
<rect x="596.5" y="382" width="20.3" height="49.3" stroke-width="0" fill="url(#conc)"/>
<path d="M596.5 360.5L596.5 429.3L598.5 431.5L614.8 431.5L616.5 429.3L616.5 360.5" stroke-width="1.2"/>
<polygon class="w" points="604.7,262.2 608.4,262.2 608.4,309.4 574.6,337.8 572.2,335 604.7,307.5"/>
<path d="M604.5 262.2L604.5 307.5L572.2 335"/>
<path d="M608.5 262.2L608.5 309.4L574.6 337.8"/>
<circle cx="564.5" cy="342.5" r="11.2" stroke-width="0.9" fill="#fff"/>
<ellipse cx="572.3" cy="336.6" rx="1.7" ry="1.2" transform="rotate(50 572.3 336.6)" stroke-width="0.9" fill="#fff"/>
<rect class="w" x="583" y="353.3" width="48.3" height="7.1"/>
<path d="M583 353.5L631.3 353.5"/>
<path d="M583 360.5L631.3 360.5"/>
<rect class="b" x="539" y="334" width="12" height="4"/>
<path d="M551 336.8L555 338.5" stroke-width="0.92"/>
<rect class="b" x="625" y="334" width="21" height="4"/>
<path d="M625 337.6L621 338L617.5 341.7" stroke-width="0.92"/>
<path d="M638.5 279.2L638.5 298.3" stroke-width="0.92"/>
<path d="M638.3 279.5L644 279.5" stroke-width="0.92"/>
<path d="M638.3 282.5L644 282.5" stroke-width="0.92"/>
<path d="M638.3 286.5L644 286.5" stroke-width="0.92"/>
<path d="M638.3 289.5L644 289.5" stroke-width="0.92"/>
<rect class="b" x="644" y="275.8" width="31" height="3.7"/>
<rect class="b" x="644" y="279.5" width="34.6" height="4"/>
<rect class="b" x="644" y="283.5" width="18.6" height="3.5"/>
<rect class="b" x="644" y="286.8" width="32" height="4.2"/>
<path d="M593 382.5L619.6 382.5" stroke-width="0.9"/>
<path d="M592 381L594.4 383.3" stroke-width="0.92"/>
<path d="M618.4 381L620.8 383.3" stroke-width="0.92"/>
<rect class="b" x="604" y="376.2" width="4" height="4.6"/>
<path d="M582.5 392.5L515.5 392.5"/>
<path d="M551.5 446.5L515.5 446.5"/>
<path d="M631.5 392.5L700.5 392.5"/>
<path d="M662.5 446.5L700.5 446.5"/>
<path d="M670.5 392.5L670.5 431.5L631.5 431.5"/>
<rect class="b" x="665" y="409" width="6.4" height="4.8"/>
<rect class="b" x="562" y="382" width="21.8" height="3.6"/>
<path d="M583.8 384.6L587 385.6L591.5 392.3" stroke-width="0.92"/>
<rect class="b" x="650" y="380.8" width="30" height="3.8"/>
<path d="M650 384L641.8 385.2L632.2 397.5" stroke-width="0.92"/>
<path d="M1105.5 195L1105.5 257.2"/>
<path d="M1105.5 262.2L1105.5 320.3"/>
<path d="M1114.5 148.5L1114.5 257.2"/>
<path d="M1117.5 148.5L1117.5 257.2"/>
<path d="M1126 148.5L1126 257.2" stroke-width="2"/>
<path d="M1130.5 148.5L1130.5 257.2"/>
<path d="M1132.5 148.5L1132.5 257.2"/>
<path d="M1126 262.2L1126 320.3" stroke-width="2"/>
<path d="M1130.5 262.2L1130.5 320.3"/>
<path d="M1132.5 262.2L1132.5 320.3"/>
<path d="M1114.5 262.2L1114.5 308.3L1148.6 337.6"/>
<path d="M1117.5 262.2L1117.5 306.6L1150.8 335.4"/>
<path d="M1105.5 195L1093.5 182.5L1093.5 165"/>
<polygon class="b" points="1020.4,120.8 1109,129.5 1109,135.2 1020.4,126.5"/>
<path d="M1020.4 119.2L1109 127.9" stroke-width="0.9"/>
<path d="M1020.4 130L1092 140" stroke-width="0.9"/>
<polygon class="b" points="1092,128.6 1109.6,129.6 1109.6,148.6 1104.4,148.6 1104.4,135 1097,134.6 1097,145.8 1092,145.8"/>
<rect class="b" x="1105" y="144.4" width="30" height="4.3"/>
<polygon class="b" points="1132.2,115 1135.2,115 1135.2,157.6 1133,157.6 1133,148.6 1122.4,148.6 1122.4,135.2 1125.6,132.4 1129.6,131.2 1131.4,127 1132.2,122"/>
<path d="M1099.3 139Q1099.3 137 1101.2 137Q1103.2 137 1103.2 139L1103.2 164.4L1099.3 164.4Z" stroke-width="0" fill="#000"/>
<rect class="b" x="1104" y="148.6" width="2" height="15.8"/>
<rect class="w" x="1100.8" y="155.5" width="1" height="3"/><rect class="w" x="1100.8" y="160" width="1" height="1.6"/>
<path d="M1101.5 164.4L1101.5 180" stroke-width="1.4"/>
<circle class="b" cx="1101.2" cy="180.2" r="1.7"/>
<path d="M1020.4 137.6L1072.5 143.8L1072.5 164.3"/>
<path d="M1020.4 139.5L1069.5 145.6L1069.5 156.5L1020.4 156.5"/>
<path d="M1020.4 158.5L1072.6 158.5"/>
<path d="M1020.4 164.5L1105 164.5"/>
<path d="M1084.5 165.5L1093.5 165.5" stroke-width="0.9"/>
<rect x="1087.5" y="165.5" width="3" height="2" stroke-width="0.8"/>
<path d="M1093.5 164L1093.5 182"/>
<circle class="b" cx="1093.2" cy="172" r="1.2"/>
<rect x="1020.5" y="299.5" width="85" height="5.9" stroke-width="0" fill="url(#dots)"/>
<rect class="b" x="1020.5" y="298" width="85" height="1.7"/>
<rect class="b" x="1020.5" y="305.4" width="85" height="4.2"/>
<rect class="w" x="1021.7" y="306.6" width="1.7" height="1.5"/>
<rect class="w" x="1024.3" y="306.6" width="1.7" height="1.5"/>
<rect class="w" x="1026.9" y="306.6" width="1.7" height="1.5"/>
<rect class="w" x="1029.5" y="306.6" width="1.7" height="1.5"/>
<rect class="w" x="1032.1" y="306.6" width="1.7" height="1.5"/>
<rect class="w" x="1034.7" y="306.6" width="1.7" height="1.5"/>
<rect class="w" x="1037.3" y="306.6" width="1.7" height="1.5"/>
<rect class="w" x="1039.9" y="306.6" width="1.7" height="1.5"/>
<rect class="w" x="1042.5" y="306.6" width="1.7" height="1.5"/>
<rect class="w" x="1045.1" y="306.6" width="1.7" height="1.5"/>
<rect class="w" x="1047.7" y="306.6" width="1.7" height="1.5"/>
<rect class="w" x="1050.3" y="306.6" width="1.7" height="1.5"/>
<rect class="w" x="1052.9" y="306.6" width="1.7" height="1.5"/>
<rect class="w" x="1055.5" y="306.6" width="1.7" height="1.5"/>
<rect class="w" x="1058.1" y="306.6" width="1.7" height="1.5"/>
<rect class="w" x="1060.7" y="306.6" width="1.7" height="1.5"/>
<rect class="w" x="1063.3" y="306.6" width="1.7" height="1.5"/>
<rect class="w" x="1065.9" y="306.6" width="1.7" height="1.5"/>
<rect class="w" x="1068.5" y="306.6" width="1.7" height="1.5"/>
<rect class="w" x="1071.1" y="306.6" width="1.7" height="1.5"/>
<rect class="w" x="1073.7" y="306.6" width="1.7" height="1.5"/>
<rect class="w" x="1076.3" y="306.6" width="1.7" height="1.5"/>
<rect class="w" x="1078.9" y="306.6" width="1.7" height="1.5"/>
<rect class="w" x="1081.5" y="306.6" width="1.7" height="1.5"/>
<rect class="w" x="1084.1" y="306.6" width="1.7" height="1.5"/>
<rect class="w" x="1086.7" y="306.6" width="1.7" height="1.5"/>
<rect class="w" x="1089.3" y="306.6" width="1.7" height="1.5"/>
<rect class="w" x="1091.9" y="306.6" width="1.7" height="1.5"/>
<rect class="w" x="1094.5" y="306.6" width="1.7" height="1.5"/>
<rect class="w" x="1097.1" y="306.6" width="1.7" height="1.5"/>
<rect class="w" x="1099.7" y="306.6" width="1.7" height="1.5"/>
<rect class="w" x="1102.3" y="306.6" width="1.7" height="1.5"/>
<clipPath id="zc3"><rect x="1020.5" y="309.1" width="85" height="12"/></clipPath>
<polygon clip-path="url(#zc3)" stroke="none" fill="url(#xh)" points="1000.25,309.6 1005.4,309.6 1009,313.4 1012.6,309.6 1017.75,309.6 1022.9,309.6 1026.5,313.4 1030.1,309.6 1035.25,309.6 1040.4,309.6 1044,313.4 1047.6,309.6 1052.75,309.6 1057.9,309.6 1061.5,313.4 1065.1,309.6 1070.25,309.6 1075.4,309.6 1079,313.4 1082.6,309.6 1087.75,309.6 1092.9,309.6 1096.5,313.4 1100.1,309.6 1105.25,309.6 1110.4,309.6 1114,313.4 1117.6,309.6 1122.75,309.6 1122.75,314.2 1114,318.9 1105.25,314.2 1096.5,318.9 1087.75,314.2 1079,318.9 1070.25,314.2 1061.5,318.9 1052.75,314.2 1044,318.9 1035.25,314.2 1026.5,318.9 1017.75,314.2 1009,318.9 1000.25,314.2"/>
<path d="M1125.8 320.5L1190.5 320.5"/>
<path d="M1125.8 325.5L1190.5 325.5" stroke-width="1.2"/>
<clipPath id="zc4"><rect x="1125.8" y="325.1" width="64.7" height="12"/></clipPath>
<polygon clip-path="url(#zc4)" stroke="none" fill="url(#xh)" points="1111.55,325.6 1116.7,325.6 1120.3,329.4 1123.9,325.6 1129.05,325.6 1134.2,325.6 1137.8,329.4 1141.4,325.6 1146.55,325.6 1151.7,325.6 1155.3,329.4 1158.9,325.6 1164.05,325.6 1169.2,325.6 1172.8,329.4 1176.4,325.6 1181.55,325.6 1186.7,325.6 1190.3,329.4 1193.9,325.6 1199.05,325.6 1204.2,325.6 1207.8,329.4 1211.4,325.6 1216.55,325.6 1216.55,330.2 1207.8,334.9 1199.05,330.2 1190.3,334.9 1181.55,330.2 1172.8,334.9 1164.05,330.2 1155.3,334.9 1146.55,330.2 1137.8,334.9 1129.05,330.2 1120.3,334.9 1111.55,330.2"/>
<rect x="1091.3" y="392.5" width="9.5" height="41.9" stroke-width="0" fill="url(#hatch)"/>
<rect x="1130.8" y="392.5" width="10" height="41.9" stroke-width="0" fill="url(#hatch)"/>
<rect x="1060.3" y="433.9" width="110.5" height="24.6" stroke-width="0" fill="url(#hatch)"/>
<path d="M1060.5 433.5L1091.5 433.5L1091.5 392.5L1100.5 392.5"/>
<path d="M1130.5 392.5L1140.5 392.5L1140.5 433.5L1170.5 433.5"/>
<path d="M1060.5 433.5L1060.5 475.5L1170.5 475.5L1170.5 433.5"/>
<path d="M1060.3 458.5L1170.8 458.5"/>
<rect class="w" x="1100.8" y="392.3" width="30" height="41"/>
<rect x="1101.6" y="394.5" width="3.7" height="37.8" stroke-width="0" fill="url(#grout)"/>
<rect x="1125.8" y="394.5" width="4.2" height="37.8" stroke-width="0" fill="url(#grout)"/>
<path d="M1100.5 392.5L1100.5 433.5L1130.5 433.5L1130.5 392.5" stroke-width="1.4"/>
<path d="M1084.3 446.7H1110.3 M1130.8 446.7H1152.8" stroke-width="0.6" stroke-dasharray="3 1.5"/>
<path d="M1074.3 450.7L1093.3 435.4" stroke-width="0.85"/>
<rect class="b" x="1111.25" y="471.2" width="7.7" height="4"/>
<circle class="b" cx="1060.3" cy="475.6" r="0.9"/>
<circle class="b" cx="1170.8" cy="475.6" r="0.9"/>
<rect x="1105.5" y="320.3" width="20.3" height="111.5" stroke-width="0" fill="url(#conc)"/>
<path d="M1105.5 320.3L1105.5 431.8"/>
<path d="M1125.5 320.3L1125.5 431.8" stroke-width="1.2"/>
<path d="M1105.5 320.5L1125.8 320.5"/>
<path d="M1105.5 431.5L1125.8 431.5"/>
<polygon class="w" points="1126.8,319 1131,319 1150.8,335.4 1148.6,337.6"/>
<path d="M1127.4 319.4L1148.6 337.6"/>
<path d="M1130.6 318.4L1150.8 335.4"/>
<rect class="b" x="1129.6" y="320.5" width="2.8" height="4"/>
<path d="M1131 320L1137 316.5" stroke-width="0.92"/>
<circle cx="1157.5" cy="342.5" r="11.2" stroke-width="0.9" fill="#fff"/>
<ellipse cx="1150.2" cy="337" rx="1.8" ry="1.3" transform="rotate(-50 1150.2 337)" stroke-width="0.9" fill="#fff"/>
<rect class="w" x="1094" y="257.2" width="47" height="5"/>
<path d="M1094 257.5L1141 257.5"/>
<path d="M1094 262.5L1141 262.5"/>
<rect class="w" x="1091.7" y="353.3" width="47.3" height="7.2"/>
<path d="M1091.7 353.5L1139 353.5"/>
<path d="M1091.7 360.5L1139 360.5"/>
<path d="M1091.5 392.5L1027.5 392.5"/>
<path d="M1060.5 446.5L1027.5 446.5"/>
<path d="M1051.5 392.5L1051.5 431.5L1091.5 431.5"/>
<rect class="b" x="1046" y="409" width="5.6" height="4.7"/>
<path d="M1073.3 385.5L1080 385.5L1090.8 400" stroke-width="0.92"/>
<path d="M1143.6 385.5L1136.6 385.5L1129.2 393.6" stroke-width="0.92"/>
<path d="M770.6 400.5L851 400.5" stroke-width="1.1"/>
<path d="M770.6 409.5L851 409.5" stroke-width="1.1"/>
<path d="M770.6 419.5L851 419.5" stroke-width="1.1"/>
<path d="M770.5 398L770.5 422" stroke-width="1.1"/>
<path d="M769.4 403.5L771.8 403.5" stroke-width="0.92"/>
<path d="M769.4 416.5L771.8 416.5" stroke-width="0.92"/>
<path d="M771 407.4H831.6V412.3H771" stroke-width="0.9" stroke-dasharray="12 8"/>
<path d="M831.5 407.4L831.5 412.3" stroke-width="0.9"/>
<path d="M846 403.5L852 403.5"/>
<path d="M846 416.5L852 416.5"/>
<path d="M898 400.5L979.4 400.5" stroke-width="1.1"/>
<path d="M898 409.5L979.4 409.5" stroke-width="1.1"/>
<path d="M898 419.5L979.4 419.5" stroke-width="1.1"/>
<path d="M979.5 398L979.5 421.5" stroke-width="1.1"/>
<path d="M978.2 403.5L980.6 403.5" stroke-width="0.92"/>
<path d="M978.2 415.5L980.6 415.5" stroke-width="0.92"/>
<path d="M926 407.2H979M926 412.5H979" stroke-width="0.9" stroke-dasharray="13 8"/>
<path d="M852.5 378.8L852.5 440.6"/>
<path d="M856.5 378.8L856.5 440.6"/>
<path d="M864 378.8L864 440.6" stroke-width="2.2"/>
<path d="M869 378.8L869 440.6" stroke-width="2.6"/>
<path d="M874.5 378.8L874.5 440.6"/>
<path d="M877.5 378.8L877.5 440.6"/>
<path d="M880.5 378.8L880.5 440.6"/>
<path d="M884.5 378.8L884.5 440.6"/>
<path d="M893.5 378.8L893.5 440.6"/>
<path d="M898.5 378.8L898.5 440.6"/>
<path d="M859.5 389L859.5 430" stroke-width="0.9"/>
<path d="M861.5 389L861.5 430" stroke-width="0.9"/>
<path d="M887.5 389L887.5 430" stroke-width="0.9"/>
<path d="M890.5 389L890.5 430" stroke-width="0.9"/>
<path d="M849.4 378.5L857.6 378.5"/>
<path d="M849.4 440.5L857.6 440.5"/>
<path d="M863.6 378.5L885.2 378.5"/>
<path d="M863.6 440.5L885.2 440.5"/>
<path d="M892 378.5L899.6 378.5"/>
<path d="M892 440.5L899.6 440.5"/>
<rect class="b" x="852" y="387.3" width="46" height="2.3"/>
<path d="M852 429.5L898 429.5" stroke-width="1.2"/>
<path d="M852 396.5L898 396.5" stroke-width="0.9"/>
<path d="M852 423.5L898 423.5" stroke-width="0.9"/>
<rect class="b" x="853.1" y="400.9" width="2.2" height="2.2"/>
<rect class="b" x="853.1" y="404.9" width="2.2" height="2.2"/>
<rect class="b" x="853.1" y="411.3" width="2.2" height="2.2"/>
<rect class="b" x="853.1" y="415.5" width="2.2" height="2.2"/>
<rect class="b" x="857.3" y="400.9" width="2.2" height="2.2"/>
<rect class="b" x="857.3" y="404.9" width="2.2" height="2.2"/>
<rect class="b" x="857.3" y="411.3" width="2.2" height="2.2"/>
<rect class="b" x="857.3" y="415.5" width="2.2" height="2.2"/>
<rect class="b" x="887.7" y="400.9" width="2.2" height="2.2"/>
<rect class="b" x="887.7" y="404.9" width="2.2" height="2.2"/>
<rect class="b" x="887.7" y="411.3" width="2.2" height="2.2"/>
<rect class="b" x="887.7" y="415.5" width="2.2" height="2.2"/>
<rect class="b" x="892.5" y="400.9" width="2.2" height="2.2"/>
<rect class="b" x="892.5" y="404.9" width="2.2" height="2.2"/>
<rect class="b" x="892.5" y="411.3" width="2.2" height="2.2"/>
<rect class="b" x="892.5" y="415.5" width="2.2" height="2.2"/>
<rect class="b" x="855" y="424.6" width="2" height="2.8"/>
<rect class="b" x="859" y="424.1" width="2" height="2.8"/>
<rect class="b" x="886" y="424.6" width="2" height="2.8"/>
<rect class="b" x="889.5" y="424.1" width="2" height="2.8"/>
<rect class="b" x="872" y="424.6" width="2" height="2.8"/>
<path d="M871 406.4L873.4 407.6L876 406.2L878.4 407.6M871 411.6L872.4 413.4L874.6 411.4L876.2 413.4L878.4 411.4" stroke-width="0.8"/>
<rect class="b" x="853.4" y="386" width="2.2" height="2"/>
<rect class="b" x="858" y="386" width="2.2" height="2"/>
<rect class="b" x="862.4" y="386" width="2.2" height="2"/>
<rect class="b" x="872" y="386" width="2.2" height="2"/>
<rect class="b" x="876" y="386" width="2.2" height="2"/>
<rect class="b" x="882.4" y="386" width="2.2" height="2"/>
<rect class="b" x="887" y="386" width="2.2" height="2"/>
<rect class="b" x="892" y="386" width="2.2" height="2"/>
<path d="M911.5 398L911.5 421.4"/>
<path d="M917.5 398L917.5 421.4"/>
<path d="M924.5 398L924.5 421.4"/>
<path d="M911.5 421L911.5 438.6"/>
<path d="M917.5 421L917.5 438.6"/>
<rect class="b" x="907" y="426.2" width="2.8" height="11.8"/>
<rect class="b" x="913.2" y="423" width="4.2" height="13.8"/>
<polygon class="b" points="901,405.6 906.6,409.3 901,413"/>
<path d="M898 403.5L912 403.5"/>
<path d="M898 415.5L912 415.5"/>
<rect class="b" x="907" y="400.4" width="11" height="1.6"/>
<rect class="b" x="907" y="417.4" width="11" height="1.6"/>
<rect class="b" x="912.6" y="407.5" width="4.4" height="3.5"/>
<rect class="b" x="919" y="407.2" width="4" height="3.8"/>
<path d="M924.4 397L925.6 401" stroke-width="0.92"/>
<path d="M924.4 421.8L925.6 418" stroke-width="0.92"/>
<rect class="b" x="844" y="373.2" width="5.8" height="2.4"/>
<path d="M852.5 375.5L856.3 375.5L863.6 381.3" stroke-width="0.92"/>
<rect class="b" x="913" y="377.3" width="6" height="2.5"/>
<path d="M898.8 379.5L913 379.5" stroke-width="0.92"/>
<path d="M950.6 414.4L965.6 426.5L973 426.5" stroke-width="0.92"/>
<rect class="b" x="973" y="424" width="9" height="3"/>
<rect class="b" x="73" y="530" width="17" height="26.3" rx="1.6"/>
<path d="M74 548.5H89.6" stroke="#fff" stroke-width="0.7" stroke-dasharray="1.2 1"/>
<rect class="b" x="62" y="520" width="11" height="2.8"/>
<path d="M62.5 524.5L80 524.5L84 529.6" stroke-width="0.92"/>
<path d="M72.5 524.4L77 529.6" stroke-width="0.92"/>
<path d="M90.6 530.5L104 530.5" stroke-width="0.92"/>
<path d="M90.6 556.5L104 556.5" stroke-width="0.92"/>
<path d="M102.5 529L102.5 557.6"/>
<rect class="b" x="98" y="539" width="4.4" height="6.6"/>
<circle class="b" cx="102.5" cy="530.4" r="1"/>
<circle class="b" cx="102.5" cy="556.2" r="1"/>
<path d="M73.5 556.3L73.5 572.4" stroke-width="0.9"/>
<path d="M77.5 556.3L77.5 572.4" stroke-width="0.9"/>
<path d="M85.5 556.3L85.5 572.4" stroke-width="0.9"/>
<path d="M89.5 556.3L89.5 572.4" stroke-width="0.9"/>
<path d="M71 565.5L91.4 565.5" stroke-width="0.9"/>
<path d="M71 571.5L91.4 571.5" stroke-width="0.9"/>
<rect class="b" x="74.4" y="562" width="1.9" height="3"/>
<rect class="b" x="80" y="562" width="1.9" height="3"/>
<rect class="b" x="86.3" y="562" width="1.9" height="3"/>
<rect class="b" x="80" y="567" width="2" height="3"/>
<circle class="b" cx="73.5" cy="565.6" r="0.9"/>
<circle class="b" cx="73.5" cy="571.9" r="0.9"/>
<circle class="b" cx="89.8" cy="565.6" r="0.9"/>
<circle class="b" cx="89.8" cy="571.9" r="0.9"/>
<rect class="b" x="136" y="527.2" width="17.8" height="5.6"/>
<rect class="b" x="143" y="532.8" width="5" height="53.5"/>
<rect class="w" x="144.4" y="540.4" width="2.4" height="0.7"/><rect class="w" x="144.4" y="566" width="2.4" height="0.7"/>
<polygon class="b" points="139,584 143,582 148,582 152,584 152,589.5 139,589.5"/>
<rect x="136.5" y="587.5" width="17" height="6"/>
<path d="M139.5 532.8L139.5 586"/>
<path d="M151.5 532.8L151.5 586"/>
<path d="M138 558.5L140.8 558.5" stroke-width="0.9"/>
<path d="M149.9 558.5L152.7 558.5" stroke-width="0.9"/>
<rect class="b" x="147.6" y="554.6" width="2" height="4.4"/>
<path d="M135 519.5L155.6 519.5" stroke-width="0.9"/>
<path d="M136.5 517.5L136.5 525" stroke-width="0.9"/>
<path d="M153.5 517.5L153.5 525" stroke-width="0.9"/>
<rect class="b" x="143" y="516" width="3" height="3"/>
<circle class="b" cx="136.3" cy="519.4" r="0.9"/>
<circle class="b" cx="153.7" cy="519.4" r="0.9"/>
<path d="M153.8 527.5L174.4 527.5" stroke-width="0.9"/>
<path d="M153.8 531.5L167.5 531.5" stroke-width="0.9"/>
<path d="M151.3 533.5L167.5 533.5" stroke-width="0.9"/>
<path d="M165.5 525.6L165.5 595"/>
<path d="M172.5 525.6L172.5 595"/>
<rect class="b" x="161" y="527.3" width="3" height="2.5"/>
<rect class="b" x="161" y="555" width="3" height="7.8"/>
<rect class="b" x="168" y="555.6" width="4" height="8.2"/>
<path d="M151.3 584.5L167.5 584.5" stroke-width="0.9"/>
<path d="M153.6 587.5L167.5 587.5" stroke-width="0.9"/>
<path d="M153.6 593.5L174.4 593.5" stroke-width="0.9"/>
<rect class="b" x="161" y="588.5" width="3" height="3.5"/>
<circle class="b" cx="165.6" cy="527.5" r="0.9"/>
<circle class="b" cx="172.9" cy="527.5" r="0.9"/>
<circle class="b" cx="165.6" cy="593.4" r="0.9"/>
<circle class="b" cx="172.9" cy="593.4" r="0.9"/>
<circle class="b" cx="165.6" cy="532.2" r="0.9"/>
<circle class="b" cx="165.6" cy="585.6" r="0.9"/>
<path d="M136.5 595L136.5 608.8" stroke-width="0.9"/>
<path d="M143.5 595L143.5 608.8" stroke-width="0.9"/>
<path d="M147.5 595L147.5 608.8" stroke-width="0.9"/>
<path d="M153.5 595L153.5 608.8" stroke-width="0.9"/>
<path d="M135 602.5L155 602.5" stroke-width="0.9"/>
<path d="M135 607.5L155 607.5" stroke-width="0.9"/>
<rect class="b" x="138.2" y="598.2" width="2.6" height="3"/>
<rect class="b" x="143.8" y="598.2" width="2.6" height="3"/>
<rect class="b" x="148.2" y="598.2" width="2.6" height="3"/>
<circle class="b" cx="136.3" cy="602.3" r="0.9"/>
<circle class="b" cx="136.3" cy="607.3" r="0.9"/>
<circle class="b" cx="153" cy="602.3" r="0.9"/>
<circle class="b" cx="153" cy="607.3" r="0.9"/>
<rect x="85.5" y="597.5" width="6" height="43" stroke-width="1.2"/>
<rect class="b" x="85" y="598" width="7" height="4.6"/>
<rect class="b" x="85.4" y="602.6" width="6.2" height="12.4"/>
<rect class="w" x="86.6" y="604.6" width="3.6" height="1.3"/>
<rect class="w" x="86.6" y="608" width="3.6" height="1.3"/>
<rect class="w" x="86.6" y="611.5" width="3.6" height="1.3"/>
<path d="M78.8 603.5L111 603.5" stroke-width="0.9"/>
<path d="M78.8 607.5L111 607.5" stroke-width="0.9"/>
<path d="M78.8 610.5L111 610.5" stroke-width="0.9"/>
<path d="M78.8 614.5L111 614.5" stroke-width="0.9"/>
<rect x="72.5" y="611.5" width="35" height="3" fill="#fff"/>
<rect class="b" x="85.4" y="610" width="6.2" height="5.4"/>
<circle cx="81.4" cy="605.2" r="1.6" stroke-width="0.8" fill="#fff"/>
<circle cx="81.4" cy="609.4" r="1.6" stroke-width="0.8" fill="#fff"/>
<circle cx="95.6" cy="605.2" r="1.6" stroke-width="0.8" fill="#fff"/>
<circle cx="95.6" cy="609.4" r="1.6" stroke-width="0.8" fill="#fff"/>
<path d="M91.3 596.5L119.5 596.5" stroke-width="0.9"/>
<path d="M107.5 616.5L119.5 616.5" stroke-width="0.9"/>
<path d="M111.5 595L111.5 617.4"/>
<path d="M117.5 595L117.5 617.4"/>
<rect class="b" x="108" y="598.2" width="2.8" height="2.8"/>
<rect class="b" x="109" y="603.8" width="2.8" height="3"/>
<rect class="b" x="109" y="608" width="2.8" height="5.6"/>
<rect class="b" x="113" y="604" width="2" height="3"/>
<rect class="b" x="113" y="609" width="2" height="4"/>
<circle class="b" cx="111" cy="596.1" r="0.9"/>
<circle class="b" cx="117.8" cy="596.1" r="0.9"/>
<circle class="b" cx="111" cy="616.4" r="0.9"/>
<circle class="b" cx="117.8" cy="616.4" r="0.9"/>
<rect class="b" x="50" y="590.2" width="8.8" height="3.3"/>
<path d="M62.5 592.5L67.5 592.5L79.4 605" stroke-width="0.92"/>
<path d="M69 594.5L78.6 607" stroke-width="0.92"/>
<rect class="b" x="53" y="618.2" width="3.2" height="7.4"/>
<rect class="b" x="53" y="622.5" width="6.8" height="3.1"/>
<path d="M63 621.3Q70 621.6 73 615.6" stroke-width="0.92"/>
<rect class="b" x="51" y="641" width="16" height="2.8"/>
<path d="M72.3 642.5L77.5 642.5L86 633" stroke-width="0.92"/>
<path d="M85.6 686.8V645H91.3V686.8" stroke-width="1.2"/>
<rect class="b" x="85" y="645" width="3" height="2"/>
<rect class="b" x="85.4" y="669.6" width="6.2" height="17.2"/>
<rect class="w" x="86.6" y="671.6" width="3.6" height="1.2"/>
<rect class="w" x="86.6" y="674.6" width="3.6" height="1.2"/>
<rect class="w" x="86.6" y="677.6" width="3.6" height="1.2"/>
<rect class="w" x="86.6" y="680.6" width="3.6" height="1.2"/>
<path d="M79 679.5L111 679.5" stroke-width="0.9"/>
<path d="M79 683.5L111 683.5" stroke-width="0.9"/>
<circle cx="81.6" cy="681.4" r="1.7" stroke-width="0.8" fill="#fff"/>
<circle cx="95.8" cy="681.4" r="1.7" stroke-width="0.8" fill="#fff"/>
<path d="M91.3 668.5L119.5 668.5" stroke-width="0.9"/>
<path d="M91.3 687.5L119.5 687.5" stroke-width="0.9"/>
<path d="M117.5 667.4L117.5 688.8"/>
<path d="M111.5 678L111.5 689"/>
<rect class="b" x="113" y="675" width="3.8" height="2.8"/>
<rect class="b" x="108.4" y="680" width="2.2" height="3"/>
<rect class="b" x="108.4" y="684" width="2.2" height="2.8"/>
<circle class="b" cx="117.8" cy="668.6" r="0.9"/>
<circle class="b" cx="117.8" cy="687.6" r="0.9"/>
<circle class="b" cx="111" cy="687.6" r="0.9"/>
<circle class="b" cx="111" cy="681" r="0.9"/>
<rect class="b" x="51" y="670" width="14" height="4"/>
<path d="M69 672.5L73.2 672.5L80.6 680" stroke-width="0.92"/>
<rect x="812.5" y="558.5" width="110" height="109" stroke-width="1.1"/>
<rect x="842.5" y="588.5" width="50" height="49" stroke-width="1.1"/>
<rect x="853.3" y="599" width="28.6" height="27.5" stroke-width="0" fill="url(#grout2)"/>
<rect x="852.5" y="598.5" width="30" height="29" stroke-width="1.4"/>
<rect x="857.5" y="603.5" width="20" height="19" stroke-width="1.1" fill="#fff"/>
<rect class="b" x="854.4" y="615" width="1.4" height="1.6"/>
<rect class="b" x="855.6" y="621" width="1.4" height="1.6"/>
<rect class="b" x="862.4" y="624.6" width="1.4" height="1.6"/>
<rect class="b" x="879.6" y="614" width="1.4" height="1.6"/>
<rect class="b" x="878.4" y="602.8" width="1.4" height="1.6"/>
<rect class="b" x="874.8" y="625.4" width="1.4" height="1.6"/>
<path d="M896.3 588.5L912.4 588.5" stroke-width="0.9"/>
<circle class="b" cx="909.6" cy="588.4" r="0.9"/>
<path d="M896.3 598.5L912.4 598.5" stroke-width="0.9"/>
<circle class="b" cx="909.6" cy="598.5" r="0.9"/>
<path d="M896.3 603.5L912.4 603.5" stroke-width="0.9"/>
<circle class="b" cx="909.6" cy="603.5" r="0.9"/>
<path d="M896.3 622.5L912.4 622.5" stroke-width="0.9"/>
<circle class="b" cx="909.6" cy="622.3" r="0.9"/>
<path d="M896.3 627.5L912.4 627.5" stroke-width="0.9"/>
<circle class="b" cx="909.6" cy="627.5" r="0.9"/>
<path d="M896.3 637.5L912.4 637.5" stroke-width="0.9"/>
<circle class="b" cx="909.6" cy="637.4" r="0.9"/>
<path d="M896.3 588.5L921.8 588.5" stroke-width="0.9"/>
<path d="M896.3 637.5L921.8 637.5" stroke-width="0.9"/>
<path d="M909.5 585.6L909.5 641"/>
<path d="M919.5 585.6L919.5 641"/>
<circle class="b" cx="919.4" cy="588.4" r="0.9"/>
<circle class="b" cx="919.4" cy="637.4" r="0.9"/>
<rect class="b" x="904.4" y="590" width="3.4" height="8"/>
<rect class="b" x="903.4" y="596" width="4.4" height="7"/>
<rect class="b" x="904" y="611" width="3.8" height="2.8"/>
<rect class="b" x="913.2" y="609.4" width="3.8" height="6.2"/>
<rect class="b" x="904" y="621.2" width="3.8" height="6"/>
<rect class="b" x="904" y="629" width="3.8" height="6"/>
<path d="M842.5 641.3L842.5 661.3" stroke-width="0.9"/>
<circle class="b" cx="842.5" cy="658.5" r="0.9"/>
<path d="M852.5 641.3L852.5 661.3" stroke-width="0.9"/>
<circle class="b" cx="852.3" cy="658.5" r="0.9"/>
<path d="M857.5 641.3L857.5 661.3" stroke-width="0.9"/>
<circle class="b" cx="857.5" cy="658.5" r="0.9"/>
<path d="M877.5 641.3L877.5 661.3" stroke-width="0.9"/>
<circle class="b" cx="877.5" cy="658.5" r="0.9"/>
<path d="M882.5 641.3L882.5 661.3" stroke-width="0.9"/>
<circle class="b" cx="882.5" cy="658.5" r="0.9"/>
<path d="M892.5 641.3L892.5 661.3" stroke-width="0.9"/>
<circle class="b" cx="892.5" cy="658.5" r="0.9"/>
<path d="M842.5 641.3L842.5 671.3" stroke-width="0.9"/>
<path d="M892.5 641.3L892.5 671.3" stroke-width="0.9"/>
<path d="M839.4 658.5L895.6 658.5" stroke-width="0.9"/>
<path d="M839.4 668L895.6 668" stroke-width="1.6"/>
<circle class="b" cx="842.5" cy="667.7" r="1"/>
<circle class="b" cx="892.5" cy="667.7" r="1"/>
<rect class="b" x="844.4" y="652.3" width="5.6" height="4"/>
<rect class="b" x="851.3" y="652.3" width="6.2" height="4"/>
<rect class="b" x="865.3" y="652.3" width="2.7" height="4"/>
<rect class="b" x="875" y="652.3" width="7.5" height="4"/>
<rect class="b" x="884" y="652.3" width="5" height="4"/>
<rect class="b" x="863" y="663" width="7" height="4.5"/>
<rect class="w" x="74" y="257.2" width="47" height="5"/>
<path d="M74 257.5L121 257.5"/>
<path d="M74 262.5L121 262.5"/>
<rect class="w" x="581.3" y="257.5" width="46.7" height="4.7"/>
<path d="M581.3 257.5L628 257.5"/>
<path d="M581.3 262.5L628 262.5"/>
<path d="M195.5 104.4L195.5 187.5"/>
<path d="M212.5 102L212.5 187.5"/>
<path d="M483.5 68L483.5 204"/>
<path d="M502.5 71L502.5 204"/>
<path d="M708.5 96L708.5 185"/>
<path d="M730.5 102L730.5 187"/>
<path d="M1001.5 68L1001.5 201"/>
<path d="M1020.5 104L1020.5 187.5"/>
<path d="M25.5 295.8L25.5 350"/>
<path d="M195.5 280L195.5 333"/>
<path d="M206.5 280L206.5 333"/>
<path d="M499.5 280.3L499.5 332.5"/>
<path d="M511.5 280.3L511.5 332.5"/>
<path d="M701.5 280.3L701.5 332.5"/>
<path d="M713.5 280.3L713.5 332.5"/>
<path d="M1008.5 280L1008.5 333"/>
<path d="M1020.5 280L1020.5 333"/>
<path d="M1190.5 295.8L1190.5 350"/>
<path d="M252.5 377.5L252.5 461"/>
<path d="M263.5 377.5L263.5 461"/>
<path d="M503.5 377.7L503.5 462"/>
<path d="M515.5 377.7L515.5 462"/>
<path d="M700.5 377.7L700.5 462"/>
<path d="M712.5 377.7L712.5 462"/>
<path d="M1015.5 377.5L1015.5 461"/>
<path d="M1027.5 377.5L1027.5 461"/>
<rect class="b" x="195.6" y="106" width="16.9" height="3.8"/>
<rect class="b" x="351.3" y="169.4" width="8.7" height="2.5"/>
<path d="M362.5 171.5L371.5 171.5L384 159" stroke-width="0.92"/>
<rect class="b" x="888" y="169.4" width="9" height="2.5"/>
<path d="M899 171.5L908 171.5L921.6 158.4" stroke-width="0.92"/>
<circle cx="106.5" cy="157" r="54.3" stroke-width="0.9"/>
<circle cx="280.6" cy="90.4" r="54" stroke-width="0.9"/>
<circle cx="606.5" cy="155.5" r="54" stroke-width="0.9"/>
<circle cx="102.7" cy="322" r="54" stroke-width="0.9"/>
<text transform="translate(38.2 90.8) scale(0.87 1)" font-size="12.2" font-weight="bold" style="stroke:#000;stroke-width:0.3">A</text><text transform="translate(47.5 90.8) scale(0.87 1)" font-size="12.2" font-weight="bold" textLength="40.92" lengthAdjust="spacing" style="stroke:#000;stroke-width:0.3">DETAYI</text>
<text transform="translate(539 90.6) scale(0.87 1)" font-size="12.6" font-weight="bold" style="stroke:#000;stroke-width:0.3">C</text><text transform="translate(548.3 90.6) scale(0.87 1)" font-size="12.6" font-weight="bold" textLength="41.15" lengthAdjust="spacing" style="stroke:#000;stroke-width:0.3">DETAYI</text>
<text transform="translate(35 257) scale(0.87 1)" font-size="12.2" font-weight="bold" style="stroke:#000;stroke-width:0.3">D</text><text transform="translate(44.1 257) scale(0.87 1)" font-size="12.2" font-weight="bold" textLength="40.57" lengthAdjust="spacing" style="stroke:#000;stroke-width:0.3">DETAYI</text>
<text x="565" y="525.7" font-size="11.8" font-weight="bold" transform="rotate(0.03 565 525.7)" textLength="92.5" lengthAdjust="spacingAndGlyphs" stroke="#000" stroke-width="0.55" style="stroke:#000">System Detail</text>
<path d="M851.3 449.6L851.3 454.02L852.11 454.8L853.19 454.8L854 454.02L854 449.6M857.95 450.38L857.14 449.6L856.06 449.6L855.25 450.38L855.25 451.58L856.06 452.2L857.14 452.2L857.95 452.82L857.95 454.02L857.14 454.8L856.06 454.8L855.25 454.02M859.2 449.6L861.9 449.6M860.55 449.6L860.55 454.8M869.85 450.38L869.04 449.6L867.96 449.6L867.15 450.38L867.15 454.02L867.96 454.8L869.04 454.8L869.85 454.02L869.85 452.46L868.64 452.46M871.91 449.6L872.99 449.6L873.8 450.38L873.8 454.02L872.99 454.8L871.91 454.8L871.1 454.02L871.1 450.38L871.91 449.6M875.05 454.8L875.05 449.6L876.94 449.6L877.75 450.28L877.75 451.52L876.94 452.2L875.05 452.2M876.27 452.2L877.75 454.8M879 449.6L879 454.02L879.81 454.8L880.89 454.8L881.7 454.02L881.7 449.6M882.95 454.8L882.95 449.6L885.65 454.8L885.65 449.6M886.9 449.6L886.9 454.02L887.71 454.8L888.79 454.8L889.6 454.02L889.6 449.6M893.55 450.38L892.74 449.6L891.66 449.6L890.85 450.38L890.85 451.58L891.66 452.2L892.74 452.2L893.55 452.82L893.55 454.02L892.74 454.8L891.66 454.8L890.85 454.02" stroke-width="1.05" stroke-linejoin="round" stroke-linecap="square"/>
<path d="M843.5 681.5L846.1 681.5M844.8 681.5L844.8 687.5M849.82 681.5L847.22 681.5L847.22 687.5L849.82 687.5M847.22 684.5L849.3 684.5M850.94 687.5L850.94 681.5L852.24 685.1L853.54 681.5L853.54 687.5M857.26 681.5L854.66 681.5L854.66 687.5L857.26 687.5M854.66 684.5L856.74 684.5M858.38 681.5L858.38 687.5L860.98 687.5M866.1 681.5L866.1 687.5L867.66 687.5L868.7 686.18L868.7 682.82L867.66 681.5L866.1 681.5M872.42 681.5L869.82 681.5L869.82 687.5L872.42 687.5M869.82 684.5L871.9 684.5M873.54 681.5L876.14 681.5M874.84 681.5L874.84 687.5M877.26 687.5L878.56 681.5L879.86 687.5M877.78 685.46L879.34 685.46M880.98 681.5L882.28 684.5L883.58 681.5M882.28 684.5L882.28 687.5M886 681.5L886 687.5" stroke-width="1.05" stroke-linejoin="round" stroke-linecap="square"/>
<text x="101" y="513.8" font-size="6.2" font-weight="bold" transform="rotate(0.03 101 513.8)" textLength="28" lengthAdjust="spacingAndGlyphs" style="stroke:#000;stroke-width:0.25">MAKAS KESITI</text>
<text x="76" y="698.2" font-size="5.8" font-weight="bold" transform="rotate(0.03 76 698.2)" textLength="40" lengthAdjust="spacingAndGlyphs" style="stroke:#000;stroke-width:0.25">BAGLANTI ELEMANI</text>
<g clip-path="url(#cp1)"><use href="#LU" transform="translate(205 464)"/></g>
<rect class="w" x="295" y="613.4" width="1.8" height="45.6"/>
<rect class="w" x="295" y="672" width="1.8" height="10.4"/>
<rect class="w" x="313.8" y="672" width="1.5" height="10.4"/>
<path d="M294 612.8L294 682.5" stroke-width="2"/>
<path d="M304.5 572L304.5 608.4" stroke-width="0.92"/>
<path d="M304.6 572.5L313 572.5" stroke-width="0.92"/>
<rect class="b" x="313" y="571" width="6" height="2"/>
<rect class="b" x="305.5" y="574.1" width="17" height="1.9"/>
<rect class="b" x="305.5" y="577.3" width="14.5" height="1.9"/>
<rect class="b" x="307" y="580.6" width="13.6" height="4.2"/>
<rect class="b" x="307" y="582" width="33.6" height="2.8"/>
<path d="M304.6 586.4L297 597.6" stroke-width="0.85"/>
<path d="M304.6 586.5L308 586.5" stroke-width="0.85"/>
<rect class="b" x="332.4" y="587" width="6" height="2"/>
<path d="M331.5 590.5L331.5 585.5L336.5 585.5" stroke-width="0.85"/>
<path d="M320.5 586L320.5 589.6"/>
<path d="M311.5 589.8L330 588.9" stroke-width="0.85"/>
<path d="M359.5 588.5L359.5 572.5L364.5 572.5" stroke-width="0.92"/>
<path d="M359.6 577.5L363.8 577.5" stroke-width="0.92"/>
<rect class="b" x="363.8" y="576" width="9.4" height="2"/>
<rect class="b" x="330" y="609" width="8.4" height="1.9"/>
<rect class="b" x="354.4" y="634" width="7.6" height="2"/>
<rect class="b" x="346.3" y="642.2" width="10.7" height="1.9"/>
<rect class="b" x="274" y="579" width="6" height="2"/>
<rect class="b" x="273" y="584.4" width="8" height="2.8"/>
<rect class="b" x="269" y="597" width="10" height="4"/>
<path d="M280 580.4L284 581.6L286.4 584" stroke-width="0.92"/>
<path d="M281 586.4L286.4 587.6" stroke-width="0.92"/>
<path d="M279 600.4L286.4 606" stroke-width="0.92"/>
<rect class="b" x="273" y="652.4" width="7" height="2.6"/>
<path d="M280 655Q286 656 291 649.5" stroke-width="0.92"/>
<g clip-path="url(#cp2)"><use href="#TR" transform="translate(155 521)"/></g>
<path d="M397.5 613L397.5 671"/>
<path d="M476.5 581L476.5 661"/>
<g clip-path="url(#cp3)"><use href="#MU" transform="translate(-50 461)"/></g>
<rect class="b" x="540" y="572.2" width="11.3" height="2.6"/>
<rect class="b" x="500" y="633.5" width="15" height="2.5"/>
<rect class="b" x="604.8" y="631" width="5.2" height="1.9"/>
<path d="M598 632.5L604.8 632.5" stroke-width="0.92"/>
<rect class="b" x="606" y="639" width="9.2" height="2.3"/>
<path d="M665 571.3L665 618.6" stroke-width="2"/>
<path d="M669.5 571.3L669.5 618.6"/>
<path d="M671.5 571.3L671.5 618.6"/>
<path d="M678.5 571.3L678.5 604.1L667.5 616.9"/>
<path d="M682.5 571.3L682.5 607.3L671.8 618.3"/>
<path d="M690.5 571.3L690.5 651.3"/>
<path d="M671.5 618.6L671.5 651.3"/>
<path d="M654.6 571.5L702.5 571.5"/>
<path d="M657.5 651.5L705.6 651.5"/>
<rect x="690.8" y="597.8" width="38.8" height="5.9" stroke-width="0" fill="url(#dots)"/>
<rect class="b" x="690.8" y="596.3" width="38.8" height="1.7"/>
<rect class="b" x="690.8" y="603.7" width="38.8" height="4.2"/>
<rect class="w" x="692" y="604.9" width="1.7" height="1.5"/>
<rect class="w" x="694.6" y="604.9" width="1.7" height="1.5"/>
<rect class="w" x="697.2" y="604.9" width="1.7" height="1.5"/>
<rect class="w" x="699.8" y="604.9" width="1.7" height="1.5"/>
<rect class="w" x="702.4" y="604.9" width="1.7" height="1.5"/>
<rect class="w" x="705" y="604.9" width="1.7" height="1.5"/>
<rect class="w" x="707.6" y="604.9" width="1.7" height="1.5"/>
<rect class="w" x="710.2" y="604.9" width="1.7" height="1.5"/>
<rect class="w" x="712.8" y="604.9" width="1.7" height="1.5"/>
<rect class="w" x="715.4" y="604.9" width="1.7" height="1.5"/>
<rect class="w" x="718" y="604.9" width="1.7" height="1.5"/>
<rect class="w" x="720.6" y="604.9" width="1.7" height="1.5"/>
<rect class="w" x="723.2" y="604.9" width="1.7" height="1.5"/>
<rect class="w" x="725.8" y="604.9" width="1.7" height="1.5"/>
<clipPath id="zc5"><rect x="690.8" y="607.4" width="38.8" height="12"/></clipPath>
<polygon clip-path="url(#zc5)" stroke="none" fill="url(#xh)" points="680.35,607.9 685.5,607.9 689.1,611.7 692.7,607.9 697.85,607.9 703,607.9 706.6,611.7 710.2,607.9 715.35,607.9 720.5,607.9 724.1,611.7 727.7,607.9 732.85,607.9 738,607.9 741.6,611.7 745.2,607.9 750.35,607.9 750.35,612.5 741.6,617.2 732.85,612.5 724.1,617.2 715.35,612.5 706.6,617.2 697.85,612.5 689.1,617.2 680.35,612.5"/>
<path d="M624.4 618.5L670.8 618.5"/>
<path d="M624.4 623.5L670.8 623.5" stroke-width="1.2"/>
<rect x="624.4" y="624.1" width="46.4" height="5" stroke-width="0" fill="url(#dots2)"/>
<clipPath id="zc6"><rect x="624.4" y="628.3" width="46.4" height="12"/></clipPath>
<polygon clip-path="url(#zc6)" stroke="none" fill="url(#xh)" points="612.15,628.8 617.3,628.8 620.9,632.6 624.5,628.8 629.65,628.8 634.8,628.8 638.4,632.6 642,628.8 647.15,628.8 652.3,628.8 655.9,632.6 659.5,628.8 664.65,628.8 669.8,628.8 673.4,632.6 677,628.8 682.15,628.8 682.15,633.4 673.4,638.1 664.65,633.4 655.9,638.1 647.15,633.4 638.4,638.1 629.65,633.4 620.9,638.1 612.15,633.4"/>
<path d="M624.5 594L624.5 647.5"/>
<path d="M670.8 618.5L690.8 618.5"/>
<rect class="b" x="663.8" y="616.7" width="3" height="4.2"/>
<circle cx="639.4" cy="641.3" r="11.2" stroke-width="0.9" fill="#fff"/>
<ellipse cx="653" cy="634.4" rx="2.2" ry="1.5" transform="rotate(-40 653 634.4)" stroke-width="0.9" fill="#fff"/>
<ellipse cx="646.4" cy="634.6" rx="2.1" ry="1.5" transform="rotate(35 646.4 634.6)" stroke-width="0.9" fill="#fff"/>
<rect class="b" x="646" y="612.4" width="6" height="2"/>
<path d="M653.5 615L660 615.6L664 618" stroke-width="0.92"/>
<rect class="b" x="652" y="641" width="6" height="1.8"/>
<rect class="b" x="699" y="634" width="11" height="2"/>
<path d="M698.4 635.8L694.4 636.4L690.6 642" stroke-width="0.92"/>
<path d="M699.5 577.5L699.5 596.3" stroke-width="0.92"/>
<path d="M699.6 577.5L704 577.5" stroke-width="0.92"/>
<rect class="b" x="705" y="576.4" width="16" height="1.8"/>
<path d="M699.6 580.5L704 580.5" stroke-width="0.92"/>
<rect class="b" x="704" y="579.1" width="18" height="1.8"/>
<path d="M699.6 584.5L704 584.5" stroke-width="0.92"/>
<rect class="b" x="704" y="583.1" width="10" height="1.8"/>
<path d="M699.6 588.5L704 588.5" stroke-width="0.92"/>
<rect class="b" x="704" y="587.1" width="17" height="1.8"/>
<rect x="255.5" y="559.5" width="474" height="124" stroke-width="1.2"/>
<path d="M374.5 559.5L374.5 683.1" stroke-width="1.2"/>
<path d="M498.5 559.5L498.5 683.1" stroke-width="1.2"/>
<path d="M615.5 559.5L615.5 683.1" stroke-width="1.2"/>
</svg></body></html>
